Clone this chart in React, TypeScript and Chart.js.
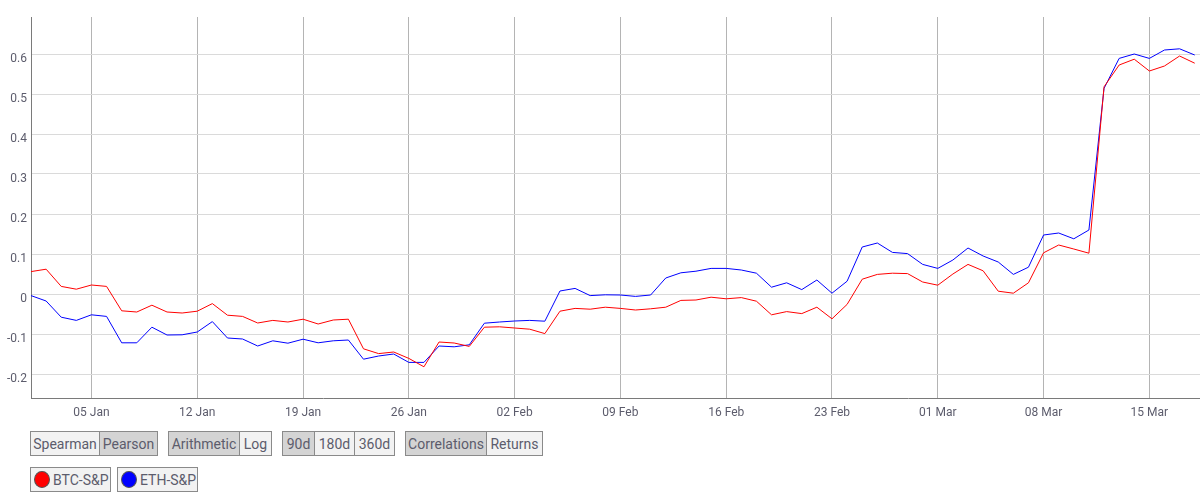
import React, { useEffect, useRef } from "react";
import { Chart, registerables } from "chart.js";

Chart.register(...registerables);

// Day index 0 = 01 Jan 2020, one point per day
const tickDays = [4, 11, 18, 25, 32, 39, 46, 53, 60, 67, 74];
const tickLabels = ["05 Jan", "12 Jan", "19 Jan", "26 Jan", "02 Feb", "09 Feb", "16 Feb", "23 Feb", "01 Mar", "08 Mar", "15 Mar"];

const btcSp = [
  0.056, 0.062, 0.019, 0.012, 0.0225, 0.019, -0.042, -0.045, -0.028, -0.045,
  -0.0475, -0.043, -0.024, -0.053, -0.056, -0.0725, -0.066, -0.07, -0.063, -0.075,
  -0.065, -0.063, -0.137, -0.149, -0.145, -0.161, -0.182, -0.12, -0.1225, -0.131,
  -0.083, -0.082, -0.085, -0.088, -0.099, -0.043, -0.036, -0.038, -0.033, -0.036,
  -0.04, -0.037, -0.033, -0.016, -0.015, -0.008, -0.012, -0.009, -0.018, -0.052,
  -0.044, -0.049, -0.033, -0.062, -0.026, 0.037, 0.049, 0.052, 0.051, 0.03,
  0.022, 0.05, 0.074, 0.058, 0.007, 0.002, 0.028, 0.103, 0.1225, 0.1125,
  0.102, 0.518, 0.5725, 0.587, 0.5575, 0.57, 0.595, 0.577,
];

const ethSp = [
  -0.004, -0.0175, -0.058, -0.066, -0.052, -0.056, -0.122, -0.122, -0.083, -0.1025,
  -0.102, -0.095, -0.069, -0.11, -0.1125, -0.13, -0.117, -0.123, -0.113, -0.122,
  -0.117, -0.115, -0.163, -0.155, -0.15, -0.171, -0.171, -0.13, -0.132, -0.127,
  -0.073, -0.07, -0.0675, -0.066, -0.068, 0.0075, 0.014, -0.004, -0.002, -0.0025,
  -0.006, -0.0025, 0.04, 0.053, 0.057, 0.064, 0.064, 0.06, 0.052, 0.017,
  0.028, 0.011, 0.035, 0.002, 0.032, 0.1175, 0.1275, 0.104, 0.101, 0.074,
  0.064, 0.085, 0.115, 0.095, 0.08, 0.049, 0.067, 0.1475, 0.1525, 0.138,
  0.16, 0.514, 0.589, 0.6, 0.589, 0.61, 0.613, 0.5975,
];

const seriesNames = ["BTC-S&P", "ETH-S&P"];
const seriesColors = ["#ff0000", "#0000ff"];

const buttonGroups: { label: string; active: boolean; w: number }[][] = [
  [
    { label: "Spearman", active: false, w: 70 },
    { label: "Pearson", active: true, w: 59 },
  ],
  [
    { label: "Arithmetic", active: true, w: 72 },
    { label: "Log", active: false, w: 33 },
  ],
  [
    { label: "90d", active: true, w: 33 },
    { label: "180d", active: false, w: 41 },
    { label: "360d", active: false, w: 41 },
  ],
  [
    { label: "Correlations", active: true, w: 82 },
    { label: "Returns", active: false, w: 57 },
  ],
];

const TEXT = "#5c5c6c";
const FONT = "Roboto, 'Noto Sans', sans-serif";

function ChartCanvas() {
  const ref = useRef<HTMLCanvasElement | null>(null);
  useEffect(() => {
    if (!ref.current) return;
    const chart = new Chart(ref.current, {
      type: "line",
      data: {
        datasets: [
          {
            label: seriesNames[0],
            data: btcSp.map((v, i) => ({ x: i, y: v })),
            borderColor: seriesColors[0],
            backgroundColor: seriesColors[0],
            borderWidth: 1,
            pointRadius: 0,
            tension: 0,
          },
          {
            label: seriesNames[1],
            data: ethSp.map((v, i) => ({ x: i, y: v })),
            borderColor: seriesColors[1],
            backgroundColor: seriesColors[1],
            borderWidth: 1,
            pointRadius: 0,
            tension: 0,
          },
        ],
      },
      options: {
        responsive: false,
        animation: false,
        layout: { padding: { top: 17, left: 0, right: 0, bottom: 0 } },
        plugins: { legend: { display: false }, tooltip: { enabled: false } },
        scales: {
          x: {
            type: "linear",
            min: 0,
            max: 77.35,
            afterBuildTicks: (s: any) => {
              s.ticks = tickDays.map((v) => ({ value: v }));
            },
            afterFit: (s: any) => {
              s.height = 22;
            },
            grid: { color: "#b4b4b4", drawTicks: false, lineWidth: 1 },
            border: { color: "#7a7a7a", width: 1 },
            ticks: {
              autoSkip: false,
              maxRotation: 0,
              padding: 8,
              color: TEXT,
              font: { family: FONT, size: 12 },
              callback: (v: any) => {
                const k = tickDays.indexOf(Number(v));
                return k >= 0 ? tickLabels[k] : "";
              },
            },
          },
          y: {
            min: -0.26,
            max: 0.6925,
            afterFit: (s: any) => {
              s.width = 31;
            },
            grid: { color: "#dadada", drawTicks: false, lineWidth: 1 },
            border: { color: "#7a7a7a", width: 1 },
            ticks: {
              stepSize: 0.1,
              includeBounds: false,
              padding: 4,
              labelOffset: 5,
              color: TEXT,
              font: { family: FONT, size: 12 },
              callback: (v: any) => String(Number(Number(v).toFixed(1))),
            },
          },
        },
      },
    } as any);
    return () => chart.destroy();
  }, []);
  return <canvas ref={ref} width={1200} height={420} style={{ display: "block", width: 1200, height: 420 }} />;
}

const btnBase: React.CSSProperties = {
  boxSizing: "border-box",
  height: 25,
  border: "1px solid #8a8a8a",
  color: TEXT,
  fontFamily: FONT,
  fontSize: 14,
  display: "flex",
  alignItems: "center",
  justifyContent: "center",
  whiteSpace: "nowrap",
};

export default function App() {
  useEffect(() => {
    document.body.style.margin = "0";
  }, []);
  return (
    <div style={{ width: 1200, height: 498, position: "relative", background: "#fff", overflow: "hidden" }}>
      <ChartCanvas />
      <div style={{ position: "absolute", left: 30, top: 431, display: "flex" }}>
        {buttonGroups.map((g, gi) => (
          <div key={gi} style={{ display: "flex", marginRight: 10 }}>
            {g.map((b, bi) => (
              <div
                key={b.label}
                style={{
                  ...btnBase,
                  width: b.w,
                  marginLeft: bi === 0 ? 0 : -1,
                  background: b.active ? "#d4d4d4" : "#f2f2f2",
                }}
              >
                {b.label}
              </div>
            ))}
          </div>
        ))}
      </div>
      <div style={{ position: "absolute", left: 30, top: 467, display: "flex" }}>
        {seriesNames.map((n, i) => (
          <div
            key={n}
            style={{ ...btnBase, width: 81, marginRight: 6, background: "#f2f2f2", justifyContent: "flex-start", paddingLeft: 3 }}
          >
            <span
              style={{
                display: "inline-block",
                width: 16,
                height: 17,
                borderRadius: "50%",
                background: seriesColors[i],
                border: "1px solid #555",
                boxSizing: "border-box",
                marginRight: 3,
              }}
            />
            {n}
          </div>
        ))}
      </div>
    </div>
  );
}
